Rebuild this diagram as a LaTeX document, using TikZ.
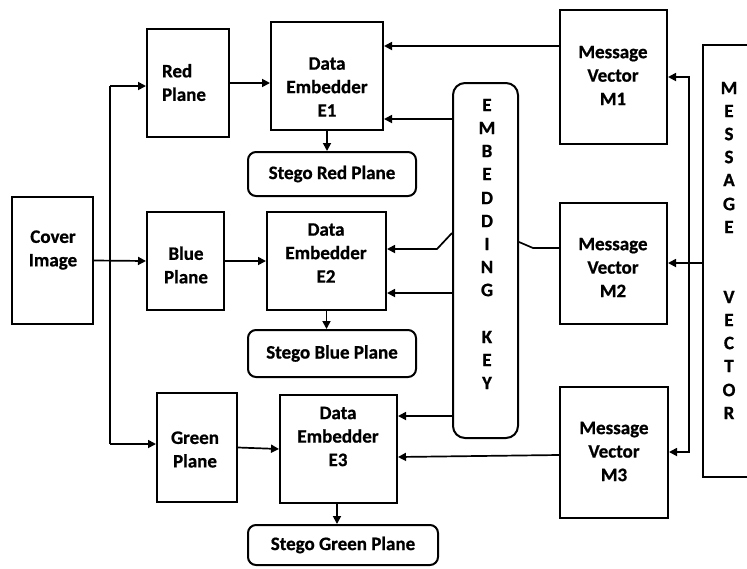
\documentclass[tikz,border=0pt]{standalone}
\usepackage{fontspec}
\setmainfont{Carlito}[BoldFeatures={FakeBold=0.8}]
\usetikzlibrary{arrows.meta}
\begin{document}
\begin{tikzpicture}[x=1pt,y=-1pt,
  box/.style={draw,line width=2pt,inner sep=0pt},
  rbox/.style={box,rounded corners=8pt},
  txt/.style={font=\bfseries\fontsize{19}{23.5}\selectfont,align=center,inner sep=0pt},
  arr/.style={line width=1.7pt,-{Triangle[length=8pt,width=8pt]}},
  ln/.style={line width=1.7pt}]
\useasboundingbox (0,0) rectangle (747,568);
\clip (0,0) rectangle (747,568);
% boxes
\node[box,minimum width=81pt,minimum height=127pt] (cover) at (52.5,260.5) {};
\node[txt] (covert) at (53,250) {Cover\\Image};
\node[box,minimum width=82pt,minimum height=108pt] (red) at (188,83) {};
\node[txt,align=left] (redt) at (184,82.5) {Red\\Plane};
\node[box,minimum width=77pt,minimum height=98pt] (blue) at (185.5,261) {};
\node[txt] (bluet) at (186,265) {Blue\\Plane};
\node[box,minimum width=80pt,minimum height=109pt] (green) at (197,447.5) {};
\node[txt] (greent) at (195,449.5) {Green\\Plane};
\node[box,minimum width=112pt,minimum height=108pt] (e1) at (327,76) {};
\node[txt] (e1t) at (327,87) {Data\\Embedder\\E1};
\node[box,minimum width=119pt,minimum height=98pt] (e2) at (326.5,261) {};
\node[txt] (e2t) at (326,253) {Data\\Embedder\\E2};
\node[box,minimum width=117pt,minimum height=108pt] (e3) at (338.5,449) {};
\node[txt] (e3t) at (338,436.5) {Data\\Embedder\\E3};
\node[rbox,txt,minimum width=168pt,minimum height=44pt] (sred) at (332,174) {Stego Red Plane};
\node[rbox,txt,minimum width=168pt,minimum height=47pt] (sblue) at (332,353.5) {Stego Blue Plane};
\node[rbox,txt,minimum width=190pt,minimum height=40pt] (sgreen) at (343,545) {Stego Green Plane};
\node[box,rounded corners=12pt,minimum width=65pt,minimum height=355pt] (key) at (485.5,260.5) {};
\node[box,minimum width=107pt,minimum height=134pt] (m1) at (613.5,77) {};
\node[txt] (m1t) at (613,75.5) {Message\\Vector\\M1};
\node[box,minimum width=107pt,minimum height=121pt] (m2) at (613.5,263.5) {};
\node[txt] (m2t) at (613,267.5) {Message\\Vector\\M2};
\node[box,minimum width=108pt,minimum height=131pt] (m3) at (614,452.5) {};
\node[txt] (m3t) at (614,451.5) {Message\\Vector\\M3};
\node[box,minimum width=67pt,minimum height=432pt] (mv) at (736.5,261) {};
% vertical letters
\foreach \l/\y [count=\i] in {E/105,M/128,B/151,E/174,D/198,D/221,I/244,N/267,G/290,K/337,E/360,Y/383}
  \node[txt] (k\i) at (487,\y) {\l};
\foreach \l/\y [count=\i] in {M/88,E/111,S/134,S/157,A/180,G/204,E/227,V/297,E/320,C/343,T/366,O/390,R/413}
  \node[txt] (v\i) at (729,\y) {\l};
% input bus
\coordinate (bt) at (110,86);
\coordinate (bb) at (110,444);
\draw[ln] (bt) -- (bb);
\draw[arr] (bt) -- (red.west |- bt);
\draw[arr] (bb) -- (green.west |- bb);
\draw[arr] (cover.east) -- (blue.west);
% planes to embedders
\draw[arr] (red.east) -- (e1.west |- red.east);
\draw[arr] (blue.east) -- (e2.west |- blue.east);
\draw[arr] (green.east) -- (e3.west);
% embedders to stego
\draw[arr] (e1.south) -- (e1.south |- sred.north);
\draw[arr] (e2.south) -- (e2.south |- sblue.north);
\draw[arr] (e3.south -| 337,0) -- (337,0 |- sgreen.north);
% key to embedders
\draw[arr] (key.west |- 0,119) -- (e1.east |- 0,119);
\draw[arr] (key.west |- 0,233) -- ++(-15,16) -- (e2.east |- 0,249);
\draw[arr] (key.west |- 0,293) -- (e2.east |- 0,293);
\draw[arr] (key.west |- 0,416) -- (e3.east |- 0,416);
% key to M2
\draw[ln] (key.east |- 0,242) -- ++(14,6) -- (m2.west |- 0,248);
% messages to embedders
\draw[arr] (m1.west |- 0,46) -- (e1.east |- 0,46);
\draw[arr] (m3.west |- 0,455) -- (e3.east |- 0,457);
% message vector distribution
\coordinate (jn) at (689,263);
\draw[arr] (mv.west |- jn) -- (m2.east |- jn);
\draw[arr] (jn) -- (689,77) -- (m1.east |- 0,77);
\draw[arr] (jn) -- (689,452) -- (m3.east |- 0,452);
\end{tikzpicture}
\end{document}
